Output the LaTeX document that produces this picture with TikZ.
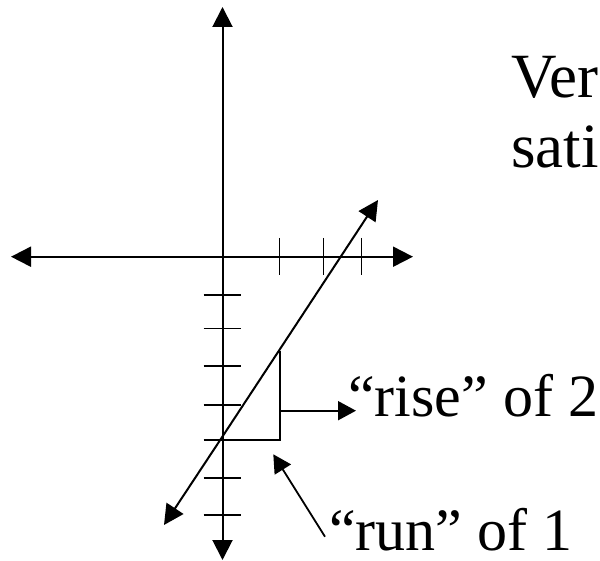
\documentclass[tikz,border=0pt]{standalone}
\usepackage{fontspec}
\setmainfont{Liberation Serif}
\usetikzlibrary{arrows.meta}
\begin{document}
\begin{tikzpicture}[x=1pt,y=-1pt,
  axis/.style={line width=2pt,-{Triangle[length=20pt,width=20pt]}},
  tickline/.style={line width=1.8pt},
  leg/.style={line width=1.8pt},
  pointer/.style={line width=1.8pt,-{Triangle[length=18pt,width=19pt]}},
  bigtext/.style={inner sep=0pt,anchor=base west,text depth=0pt,font=\fontsize{60}{70}\selectfont},
  titletext/.style={inner sep=0pt,anchor=base west,text depth=0pt,font=\fontsize{63}{70}\selectfont}]
\useasboundingbox (0,0) rectangle (600,561);
\clip (0,0) rectangle (600,561);
% axes
\coordinate (o) at (222.5,256.7);
\coordinate (xl) at (11,256.7);
\coordinate (xr) at (413,256.7);
\coordinate (yt) at (222.5,7);
\coordinate (yb) at (222.5,560);
\draw[axis] (o) -- (xl);
\draw[axis] (o) -- (xr);
\draw[axis] (o) -- (yt);
\draw[axis] (o) -- (yb);
% x ticks
\foreach \x [count=\i] in {279.5,323.5,361.5}{
  \coordinate (xt\i a) at (\x,238);
  \coordinate (xt\i b) at (\x,275);
  \draw[tickline] (xt\i a) -- (xt\i b);
}
% y ticks
\foreach \y [count=\i] in {295,328.5,366,405,440,478,515}{
  \coordinate (yt\i a) at (203.5,\y);
  \coordinate (yt\i b) at (241,\y);
  \draw[tickline] (yt\i a) -- (yt\i b);
}
% slanted line
\coordinate (lc) at (222.5,436.5);
\coordinate (la) at (164,525);
\coordinate (lb) at (378,200);
\draw[axis] (lc) -- (la);
\draw[axis] (lc) -- (lb);
% triangle
\coordinate (t1) at (222.5,440);
\coordinate (t2) at (280,440);
\coordinate (t3) at (280,351);
\draw[leg] (t1) -- (t2) -- (t3);
% labels
\node[bigtext] (rise) at (348,416) {“rise” of 2};
\node[bigtext] (run) at (329,550) {“run” of 1};
\node[titletext] (ver) at (511,98) {Ver};
\node[titletext] (sati) at (511,168) {sati};
% pointers
\coordinate (rs) at (280,410.7);
\coordinate (re) at (356,410.7);
\draw[pointer] (rs) -- (re);
\coordinate (us) at (325,536.7);
\coordinate (ue) at (273.3,454.3);
\draw[pointer] (us) -- (ue);
\end{tikzpicture}
\end{document}
